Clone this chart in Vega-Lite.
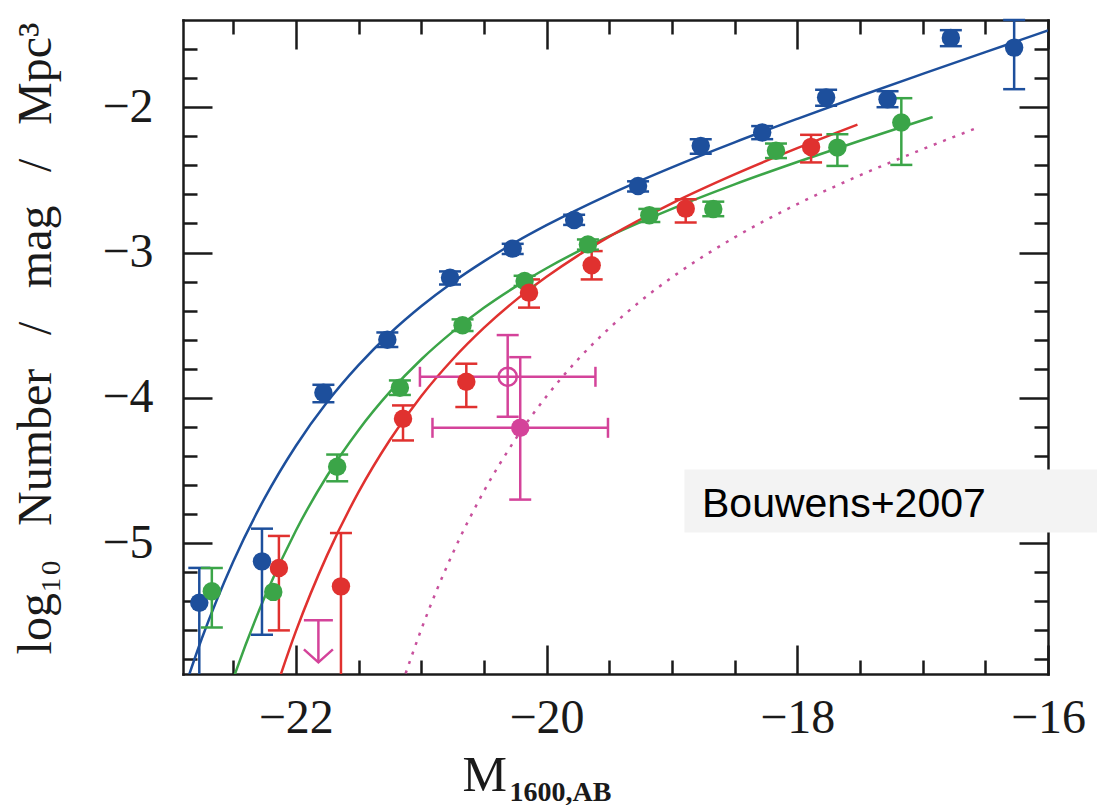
{
  "$schema": "https://vega.github.io/schema/vega-lite/v6.json",
  "width": 865,
  "height": 654,
  "autosize": {"type": "none"},
  "padding": {"left": 183, "top": 20, "right": 49, "bottom": 131},
  "background": "white",
  "config": {
    "view": {"stroke": null},
    "axis": {
      "grid": false,
      "domainColor": "#1a1a1a",
      "domainWidth": 2.5,
      "domainCap": "square",
      "tickColor": "#1a1a1a",
      "tickWidth": 2.5,
      "labelFont": "Liberation Serif",
      "labelFontSize": 48,
      "labelColor": "#1a1a1a",
      "titleFont": "Liberation Serif",
      "titleFontSize": 48,
      "titleFontWeight": "normal",
      "titleColor": "#1a1a1a",
      "labelFlush": false,
      "labelOverlap": false,
      "labelBound": false,
      "format": "d"
    }
  },
  "datasets": {
    "curves": [
      {"s": "z4", "M": -22.9, "phi": -6.03}, {"s": "z4", "M": -22.75, "phi": -5.656}, {"s": "z4", "M": -22.5, "phi": -5.127},
      {"s": "z4", "M": -22.25, "phi": -4.692}, {"s": "z4", "M": -22.0, "phi": -4.331}, {"s": "z4", "M": -21.75, "phi": -4.029},
      {"s": "z4", "M": -21.5, "phi": -3.775}, {"s": "z4", "M": -21.25, "phi": -3.557}, {"s": "z4", "M": -21.0, "phi": -3.37},
      {"s": "z4", "M": -20.75, "phi": -3.206}, {"s": "z4", "M": -20.5, "phi": -3.061}, {"s": "z4", "M": -20.25, "phi": -2.93},
      {"s": "z4", "M": -20.0, "phi": -2.812}, {"s": "z4", "M": -19.5, "phi": -2.601}, {"s": "z4", "M": -19.0, "phi": -2.414},
      {"s": "z4", "M": -18.5, "phi": -2.242}, {"s": "z4", "M": -18.0, "phi": -2.08}, {"s": "z4", "M": -17.5, "phi": -1.923},
      {"s": "z4", "M": -17.0, "phi": -1.771}, {"s": "z4", "M": -16.5, "phi": -1.621}, {"s": "z4", "M": -16.0, "phi": -1.472},
      {"s": "z5", "M": -22.55, "phi": -6.06}, {"s": "z5", "M": -22.5, "phi": -5.935}, {"s": "z5", "M": -22.25, "phi": -5.374},
      {"s": "z5", "M": -22.0, "phi": -4.914}, {"s": "z5", "M": -21.75, "phi": -4.536}, {"s": "z5", "M": -21.5, "phi": -4.222},
      {"s": "z5", "M": -21.25, "phi": -3.959}, {"s": "z5", "M": -21.0, "phi": -3.736}, {"s": "z5", "M": -20.75, "phi": -3.546},
      {"s": "z5", "M": -20.5, "phi": -3.38}, {"s": "z5", "M": -20.25, "phi": -3.236}, {"s": "z5", "M": -20.0, "phi": -3.108},
      {"s": "z5", "M": -19.5, "phi": -2.887}, {"s": "z5", "M": -19.0, "phi": -2.699}, {"s": "z5", "M": -18.5, "phi": -2.531},
      {"s": "z5", "M": -18.0, "phi": -2.377}, {"s": "z5", "M": -17.5, "phi": -2.231}, {"s": "z5", "M": -17.0, "phi": -2.09},
      {"s": "z5", "M": -16.92, "phi": -2.068},
      {"s": "z6", "M": -22.2, "phi": -6.11}, {"s": "z6", "M": -22.0, "phi": -5.607}, {"s": "z6", "M": -21.75, "phi": -5.082},
      {"s": "z6", "M": -21.5, "phi": -4.649}, {"s": "z6", "M": -21.25, "phi": -4.29}, {"s": "z6", "M": -21.0, "phi": -3.989},
      {"s": "z6", "M": -20.75, "phi": -3.736}, {"s": "z6", "M": -20.5, "phi": -3.519}, {"s": "z6", "M": -20.25, "phi": -3.331},
      {"s": "z6", "M": -20.0, "phi": -3.167}, {"s": "z6", "M": -19.75, "phi": -3.021}, {"s": "z6", "M": -19.5, "phi": -2.89},
      {"s": "z6", "M": -19.0, "phi": -2.661}, {"s": "z6", "M": -18.5, "phi": -2.462}, {"s": "z6", "M": -18.0, "phi": -2.282},
      {"s": "z6", "M": -17.52, "phi": -2.12},
      {"s": "z7", "M": -21.15, "phi": -5.961}, {"s": "z7", "M": -21.0, "phi": -5.595}, {"s": "z7", "M": -20.75, "phi": -5.073},
      {"s": "z7", "M": -20.5, "phi": -4.643}, {"s": "z7", "M": -20.25, "phi": -4.287}, {"s": "z7", "M": -20.0, "phi": -3.989},
      {"s": "z7", "M": -19.75, "phi": -3.736}, {"s": "z7", "M": -19.5, "phi": -3.521}, {"s": "z7", "M": -19.25, "phi": -3.334},
      {"s": "z7", "M": -19.0, "phi": -3.171}, {"s": "z7", "M": -18.5, "phi": -2.896}, {"s": "z7", "M": -18.0, "phi": -2.667},
      {"s": "z7", "M": -17.5, "phi": -2.469}, {"s": "z7", "M": -17.0, "phi": -2.289}, {"s": "z7", "M": -16.55, "phi": -2.137}
    ],
    "pts": [
      {"s": "z4", "M": -22.77, "phi": -5.41, "lo": -6.2, "hi": -5.17},
      {"s": "z4", "M": -22.27, "phi": -5.125, "lo": -5.63, "hi": -4.9},
      {"s": "z4", "M": -21.78, "phi": -3.965, "lo": -4.03, "hi": -3.91},
      {"s": "z4", "M": -21.27, "phi": -3.6, "lo": -3.65, "hi": -3.55},
      {"s": "z4", "M": -20.77, "phi": -3.173, "lo": -3.22, "hi": -3.13},
      {"s": "z4", "M": -20.27, "phi": -2.973, "lo": -3.01, "hi": -2.94},
      {"s": "z4", "M": -19.78, "phi": -2.776, "lo": -2.81, "hi": -2.74},
      {"s": "z4", "M": -19.27, "phi": -2.542, "lo": -2.58, "hi": -2.51},
      {"s": "z4", "M": -18.77, "phi": -2.266, "lo": -2.32, "hi": -2.22},
      {"s": "z4", "M": -18.28, "phi": -2.174, "lo": -2.22, "hi": -2.13},
      {"s": "z4", "M": -17.77, "phi": -1.933, "lo": -1.99, "hi": -1.88},
      {"s": "z4", "M": -17.28, "phi": -1.945, "lo": -2.0, "hi": -1.89},
      {"s": "z4", "M": -16.775, "phi": -1.523, "lo": -1.58, "hi": -1.47},
      {"s": "z4", "M": -16.27, "phi": -1.59, "lo": -1.876, "hi": -1.4},
      {"s": "z5", "M": -22.67, "phi": -5.33, "lo": -5.58, "hi": -5.17},
      {"s": "z5", "M": -22.18, "phi": -5.335, "lo": null, "hi": null},
      {"s": "z5", "M": -21.67, "phi": -4.474, "lo": -4.574, "hi": -4.39},
      {"s": "z5", "M": -21.17, "phi": -3.93, "lo": -3.98, "hi": -3.88},
      {"s": "z5", "M": -20.67, "phi": -3.5, "lo": -3.54, "hi": -3.46},
      {"s": "z5", "M": -20.175, "phi": -3.196, "lo": -3.23, "hi": -3.16},
      {"s": "z5", "M": -19.67, "phi": -2.944, "lo": -2.98, "hi": -2.91},
      {"s": "z5", "M": -19.18, "phi": -2.744, "lo": -2.79, "hi": -2.7},
      {"s": "z5", "M": -18.67, "phi": -2.7, "lo": -2.75, "hi": -2.65},
      {"s": "z5", "M": -18.17, "phi": -2.3, "lo": -2.35, "hi": -2.25},
      {"s": "z5", "M": -17.68, "phi": -2.278, "lo": -2.404, "hi": -2.186},
      {"s": "z5", "M": -17.17, "phi": -2.105, "lo": -2.397, "hi": -1.938},
      {"s": "z6", "M": -22.135, "phi": -5.17, "lo": -5.6, "hi": -4.95},
      {"s": "z6", "M": -21.64, "phi": -5.297, "lo": -6.2, "hi": -4.93},
      {"s": "z6", "M": -21.145, "phi": -4.144, "lo": -4.293, "hi": -4.052},
      {"s": "z6", "M": -20.64, "phi": -3.889, "lo": -4.063, "hi": -3.765},
      {"s": "z6", "M": -20.14, "phi": -3.276, "lo": -3.379, "hi": -3.185},
      {"s": "z6", "M": -19.64, "phi": -3.088, "lo": -3.185, "hi": -2.99},
      {"s": "z6", "M": -18.89, "phi": -2.698, "lo": -2.794, "hi": -2.634},
      {"s": "z6", "M": -17.89, "phi": -2.273, "lo": -2.38, "hi": -2.19},
      {"s": "z7", "M": -20.31, "phi": -3.855, "lo": -4.13, "hi": -3.568, "xlo": -21.01, "xhi": -19.61, "open": true},
      {"s": "z7", "M": -20.21, "phi": -4.206, "lo": -4.7, "hi": -3.72, "xlo": -20.91, "xhi": -19.51, "open": false}
    ],
    "ul": [{"s": "z7", "M": -21.82, "cap": -5.53, "tip": -5.82}],
    "note": [{"label": "Bouwens+2007"}]
  },
  "layer": [
    {
      "data": {"name": "curves"},
      "transform": [{"filter": "datum.s !== 'z7'"}],
      "mark": {"type": "line", "strokeWidth": 2.5, "clip": true, "interpolate": "monotone"},
      "encoding": {
        "x": {"field": "M", "type": "quantitative", "scale": {"domain": [-22.9, -16], "nice": false, "zero": false},
          "axis": {"orient": "bottom", "values": [-22.5, -22, -21.5, -21, -20.5, -20, -19.5, -19, -18.5, -18, -17.5, -17, -16.5, -16],
            "tickSize": {"condition": {"test": "abs(datum.value/2 - round(datum.value/2)) < 0.01", "value": -29}, "value": -14},
            "labelExpr": "abs(datum.value/2 - round(datum.value/2)) < 0.01 ? datum.label : ''",
            "labelPadding": 49,
            "title": "M", "titleX": 279, "titleY": 116, "titleAlign": "left", "titleBaseline": "alphabetic", "titleFontSize": 50}},
        "y": {"field": "phi", "type": "quantitative", "scale": {"domain": [-5.9, -1.4], "nice": false, "zero": false},
          "axis": {"orient": "left", "values": [-5.8, -5.6, -5.4, -5.2, -5, -4.8, -4.6, -4.4, -4.2, -4, -3.8, -3.6, -3.4, -3.2, -3, -2.8, -2.6, -2.4, -2.2, -2, -1.8, -1.6],
            "tickSize": {"condition": {"test": "abs(datum.value - round(datum.value)) < 0.01", "value": -29}, "value": -14},
            "labelExpr": "abs(datum.value - round(datum.value)) < 0.01 ? datum.label : ''",
            "labelPadding": 59,
            "title": "log₁₀\u2002\u2009Number\u2002\u2009/\u2002\u2009mag\u2002\u2009/\u2002\u2009Mpc³",
            "titleX": -133, "titleY": 318, "titleAngle": -90, "titleAlign": "center", "titleBaseline": "alphabetic"}},
        "color": {"field": "s", "type": "nominal", "scale": {"domain": ["z4", "z5", "z6", "z7"], "range": ["#1d4f9c", "#3ba548", "#e0312f", "#d4439a"]}, "legend": null}
      }
    },
    {
      "data": {"name": "curves"},
      "transform": [{"filter": "datum.s === 'z7'"}],
      "mark": {"type": "line", "strokeWidth": 2.5, "clip": true, "interpolate": "monotone", "strokeDash": [3, 7], "color": "#c8509c"},
      "encoding": {
        "x": {"field": "M", "type": "quantitative", "scale": {"domain": [-22.9, -16], "nice": false, "zero": false},
          "axis": {"orient": "top", "values": [-22.5, -22, -21.5, -21, -20.5, -20, -19.5, -19, -18.5, -18, -17.5, -17, -16.5, -16],
            "tickSize": {"condition": {"test": "abs(datum.value/2 - round(datum.value/2)) < 0.01", "value": -29}, "value": -14},
            "labels": false, "title": null}},
        "y": {"field": "phi", "type": "quantitative", "scale": {"domain": [-5.9, -1.4], "nice": false, "zero": false},
          "axis": {"orient": "right", "values": [-5.8, -5.6, -5.4, -5.2, -5, -4.8, -4.6, -4.4, -4.2, -4, -3.8, -3.6, -3.4, -3.2, -3, -2.8, -2.6, -2.4, -2.2, -2, -1.8, -1.6],
            "tickSize": {"condition": {"test": "abs(datum.value - round(datum.value)) < 0.01", "value": -29}, "value": -14},
            "labels": false, "title": null}}
      }
    },
    {
      "data": {"name": "pts"},
      "transform": [{"filter": "isValid(datum.lo)"}],
      "mark": {"type": "rule", "strokeWidth": 2.5, "clip": true},
      "encoding": {
        "x": {"field": "M", "type": "quantitative", "scale": {"domain": [-22.9, -16], "nice": false, "zero": false},
          "axis": {"orient": "bottom", "ticks": false, "labels": false, "domain": false, "title": "1600,AB",
            "titleX": 326, "titleY": 126, "titleAlign": "left", "titleBaseline": "alphabetic", "titleFontSize": 28, "titleFontWeight": "bold"}},
        "y": {"field": "lo", "type": "quantitative", "scale": {"domain": [-5.9, -1.4], "nice": false, "zero": false}, "axis": null},
        "y2": {"field": "hi"},
        "color": {"field": "s", "type": "nominal", "scale": {"domain": ["z4", "z5", "z6", "z7"], "range": ["#1d4f9c", "#3ba548", "#e0312f", "#d4439a"]}, "legend": null}
      }
    },
    {
      "data": {"name": "pts"},
      "transform": [{"filter": "isValid(datum.hi)"}],
      "mark": {"type": "tick", "orient": "horizontal", "size": 22, "thickness": 2.5, "opacity": 1},
      "encoding": {
        "x": {"field": "M", "type": "quantitative", "scale": {"domain": [-22.9, -16], "nice": false, "zero": false}, "axis": null},
        "y": {"field": "hi", "type": "quantitative", "scale": {"domain": [-5.9, -1.4], "nice": false, "zero": false}, "axis": null},
        "color": {"field": "s", "type": "nominal", "scale": {"domain": ["z4", "z5", "z6", "z7"], "range": ["#1d4f9c", "#3ba548", "#e0312f", "#d4439a"]}, "legend": null}
      }
    },
    {
      "data": {"name": "pts"},
      "transform": [{"filter": "isValid(datum.lo) && datum.lo > -5.9"}],
      "mark": {"type": "tick", "orient": "horizontal", "size": 22, "thickness": 2.5, "opacity": 1},
      "encoding": {
        "x": {"field": "M", "type": "quantitative", "scale": {"domain": [-22.9, -16], "nice": false, "zero": false}, "axis": null},
        "y": {"field": "lo", "type": "quantitative", "scale": {"domain": [-5.9, -1.4], "nice": false, "zero": false}, "axis": null},
        "color": {"field": "s", "type": "nominal", "scale": {"domain": ["z4", "z5", "z6", "z7"], "range": ["#1d4f9c", "#3ba548", "#e0312f", "#d4439a"]}, "legend": null}
      }
    },
    {
      "data": {"name": "pts"},
      "transform": [{"filter": "isValid(datum.xlo)"}],
      "mark": {"type": "rule", "strokeWidth": 2.5},
      "encoding": {
        "x": {"field": "xlo", "type": "quantitative", "scale": {"domain": [-22.9, -16], "nice": false, "zero": false}, "axis": null},
        "x2": {"field": "xhi"},
        "y": {"field": "phi", "type": "quantitative", "scale": {"domain": [-5.9, -1.4], "nice": false, "zero": false}, "axis": null},
        "color": {"field": "s", "type": "nominal", "scale": {"domain": ["z4", "z5", "z6", "z7"], "range": ["#1d4f9c", "#3ba548", "#e0312f", "#d4439a"]}, "legend": null}
      }
    },
    {
      "data": {"name": "pts"},
      "transform": [{"filter": "isValid(datum.xlo)"}],
      "mark": {"type": "tick", "orient": "vertical", "size": 20, "thickness": 2.5, "opacity": 1},
      "encoding": {
        "x": {"field": "xlo", "type": "quantitative", "scale": {"domain": [-22.9, -16], "nice": false, "zero": false}, "axis": null},
        "y": {"field": "phi", "type": "quantitative", "scale": {"domain": [-5.9, -1.4], "nice": false, "zero": false}, "axis": null},
        "color": {"field": "s", "type": "nominal", "scale": {"domain": ["z4", "z5", "z6", "z7"], "range": ["#1d4f9c", "#3ba548", "#e0312f", "#d4439a"]}, "legend": null}
      }
    },
    {
      "data": {"name": "pts"},
      "transform": [{"filter": "isValid(datum.xhi)"}],
      "mark": {"type": "tick", "orient": "vertical", "size": 20, "thickness": 2.5, "opacity": 1},
      "encoding": {
        "x": {"field": "xhi", "type": "quantitative", "scale": {"domain": [-22.9, -16], "nice": false, "zero": false}, "axis": null},
        "y": {"field": "phi", "type": "quantitative", "scale": {"domain": [-5.9, -1.4], "nice": false, "zero": false}, "axis": null},
        "color": {"field": "s", "type": "nominal", "scale": {"domain": ["z4", "z5", "z6", "z7"], "range": ["#1d4f9c", "#3ba548", "#e0312f", "#d4439a"]}, "legend": null}
      }
    },
    {
      "data": {"name": "pts"},
      "transform": [{"filter": "datum.open !== true"}],
      "mark": {"type": "point", "shape": "circle", "filled": true, "size": 340, "opacity": 1},
      "encoding": {
        "x": {"field": "M", "type": "quantitative", "scale": {"domain": [-22.9, -16], "nice": false, "zero": false}, "axis": null},
        "y": {"field": "phi", "type": "quantitative", "scale": {"domain": [-5.9, -1.4], "nice": false, "zero": false}, "axis": null},
        "color": {"field": "s", "type": "nominal", "scale": {"domain": ["z4", "z5", "z6", "z7"], "range": ["#1d4f9c", "#3ba548", "#e0312f", "#d4439a"]}, "legend": null}
      }
    },
    {
      "data": {"name": "pts"},
      "transform": [{"filter": "datum.open === true"}],
      "mark": {"type": "point", "shape": "circle", "filled": false, "size": 330, "strokeWidth": 2.5, "opacity": 1},
      "encoding": {
        "x": {"field": "M", "type": "quantitative", "scale": {"domain": [-22.9, -16], "nice": false, "zero": false}, "axis": null},
        "y": {"field": "phi", "type": "quantitative", "scale": {"domain": [-5.9, -1.4], "nice": false, "zero": false}, "axis": null},
        "color": {"field": "s", "type": "nominal", "scale": {"domain": ["z4", "z5", "z6", "z7"], "range": ["#1d4f9c", "#3ba548", "#e0312f", "#d4439a"]}, "legend": null}
      }
    },
    {
      "data": {"name": "ul"},
      "mark": {"type": "rule", "strokeWidth": 2.5, "color": "#d4439a"},
      "encoding": {
        "x": {"field": "M", "type": "quantitative", "scale": {"domain": [-22.9, -16], "nice": false, "zero": false}, "axis": null},
        "y": {"field": "cap", "type": "quantitative", "scale": {"domain": [-5.9, -1.4], "nice": false, "zero": false}, "axis": null},
        "y2": {"field": "tip"}
      }
    },
    {
      "data": {"name": "ul"},
      "mark": {"type": "tick", "orient": "horizontal", "size": 29, "thickness": 2.5, "color": "#d4439a", "opacity": 1},
      "encoding": {
        "x": {"field": "M", "type": "quantitative", "scale": {"domain": [-22.9, -16], "nice": false, "zero": false}, "axis": null},
        "y": {"field": "cap", "type": "quantitative", "scale": {"domain": [-5.9, -1.4], "nice": false, "zero": false}, "axis": null}
      }
    },
    {
      "data": {"name": "ul"},
      "mark": {"type": "point", "shape": "M-1,-0.9L0,0L1,-0.9", "filled": false, "size": 841, "strokeWidth": 2.5, "color": "#d4439a", "opacity": 1},
      "encoding": {
        "x": {"field": "M", "type": "quantitative", "scale": {"domain": [-22.9, -16], "nice": false, "zero": false}, "axis": null},
        "y": {"field": "tip", "type": "quantitative", "scale": {"domain": [-5.9, -1.4], "nice": false, "zero": false}, "axis": null}
      }
    },
    {
      "data": {"name": "note"},
      "mark": {"type": "rect", "fill": "#f3f3f3", "clip": false},
      "encoding": {
        "x": {"datum": -18.9, "type": "quantitative", "scale": {"domain": [-22.9, -16], "nice": false, "zero": false}, "axis": null},
        "x2": {"datum": -15.5},
        "y": {"datum": -4.493, "type": "quantitative", "scale": {"domain": [-5.9, -1.4], "nice": false, "zero": false}, "axis": null},
        "y2": {"datum": -4.927}
      }
    },
    {
      "data": {"name": "note"},
      "mark": {"type": "text", "font": "Liberation Sans", "fontSize": 41, "align": "left", "baseline": "alphabetic", "color": "#000000"},
      "encoding": {
        "text": {"field": "label"},
        "x": {"datum": -18.76, "type": "quantitative", "scale": {"domain": [-22.9, -16], "nice": false, "zero": false}, "axis": null},
        "y": {"datum": -4.817, "type": "quantitative", "scale": {"domain": [-5.9, -1.4], "nice": false, "zero": false}, "axis": null}
      }
    }
  ],
  "resolve": {"axis": {"x": "independent", "y": "independent"}}
}
